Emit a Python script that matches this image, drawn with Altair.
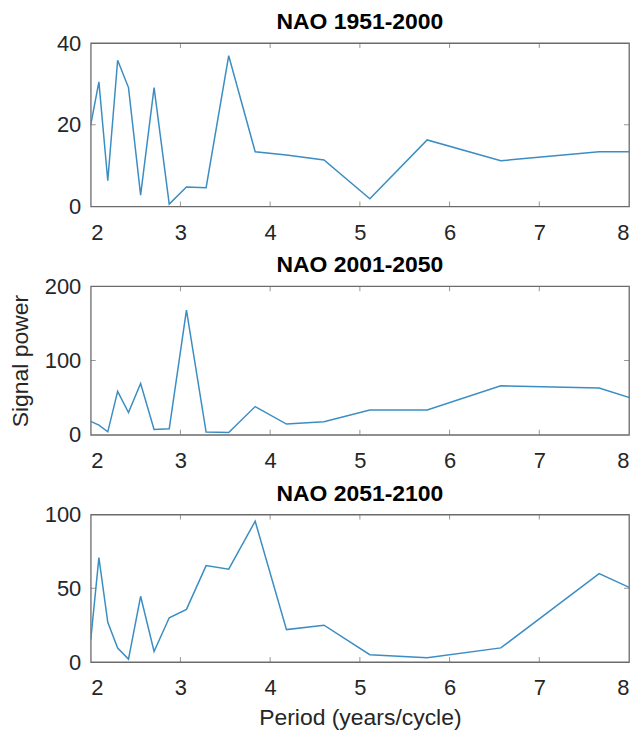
import altair as alt
import pandas as pd

# Period axis (years/cycle) of the spectral estimates
periods = [2.0, 2.091, 2.19, 2.3, 2.421, 2.556, 2.706, 2.875, 3.067, 3.286,
           3.538, 3.833, 4.182, 4.6, 5.111, 5.75, 6.571, 7.667, 9.2]

power_1951_2000 = [20.0, 30.5, 6.3, 35.8, 29.1, 2.8, 29.1, 0.6, 4.8, 4.6,
                   36.9, 13.4, 12.6, 11.4, 1.9, 16.3, 11.2, 13.4, 13.4]
power_2001_2050 = [18.0, 13.0, 4.0, 58.5, 30.0, 69.0, 7.2, 8.0, 168.0, 3.6,
                   3.0, 38.0, 14.5, 17.5, 33.5, 33.5, 66.0, 63.0, 5.0]
power_2051_2100 = [15.0, 70.8, 27.0, 9.5, 2.0, 44.6, 7.2, 30.0, 35.7, 65.4,
                   63.0, 95.5, 22.0, 25.0, 5.0, 3.0, 9.6, 60.0, 17.0]

titles = ["NAO 1951-2000", "NAO 2001-2050", "NAO 2051-2100"]
y_domains = [[0, 40], [0, 200], [0, 100]]
y_tick_values = [[0, 20, 40], [0, 100, 200], [0, 50, 100]]
y_inner_ticks = [[20], [100], [50]]
x_tick_values = [2, 3, 4, 5, 6, 7, 8]
x_inner_ticks = [3, 4, 5, 6, 7]

W = 540
heights = [164, 149, 148]
LINE = "#3b8ec3"
FRAME = "#6b6b6b"
FONT = "Liberation Sans"


def panel(i, values):
    h = heights[i]
    df = pd.DataFrame({"period": periods, "power": values})
    xscale = alt.Scale(domain=[2, 8], nice=False, zero=False)
    yscale = alt.Scale(domain=y_domains[i], nice=False)
    x_title = "Period (years/cycle)" if i == 2 else None
    y_title = "Signal power" if i == 1 else None
    xaxis = alt.Axis(values=x_tick_values, title=x_title, format="d")
    yaxis = alt.Axis(values=y_tick_values[i], title=y_title, format="d")

    line = alt.Chart(df).mark_line(color=LINE, strokeWidth=1.5, clip=True).encode(
        x=alt.X("period:Q", scale=xscale, axis=xaxis),
        y=alt.Y("power:Q", scale=yscale, axis=yaxis),
    )

    xt = pd.DataFrame({"period": x_inner_ticks})
    yt = pd.DataFrame({"power": y_inner_ticks[i]})
    tick_x_bottom = alt.Chart(xt).mark_tick(orient="vertical", color=FRAME, size=10,
                                            thickness=1, clip=True).encode(
        x=alt.X("period:Q", scale=xscale, axis=xaxis), y=alt.value(h))
    tick_x_top = alt.Chart(xt).mark_tick(orient="vertical", color=FRAME, size=10,
                                         thickness=1, clip=True).encode(
        x=alt.X("period:Q", scale=xscale, axis=xaxis), y=alt.value(0))
    tick_y_left = alt.Chart(yt).mark_tick(orient="horizontal", color=FRAME, size=10,
                                          thickness=1, clip=True).encode(
        y=alt.Y("power:Q", scale=yscale, axis=yaxis), x=alt.value(0))
    tick_y_right = alt.Chart(yt).mark_tick(orient="horizontal", color=FRAME, size=10,
                                           thickness=1, clip=True).encode(
        y=alt.Y("power:Q", scale=yscale, axis=yaxis), x=alt.value(W))

    return alt.layer(line, tick_x_bottom, tick_x_top, tick_y_left, tick_y_right).properties(
        width=W, height=h,
        title=alt.TitleParams(titles[i], fontSize=23, fontWeight="bold", font=FONT,
                              color="black", anchor="middle", offset=-2),
    )


chart = alt.vconcat(
    panel(0, power_1951_2000),
    panel(1, power_2001_2050),
    panel(2, power_2051_2100),
    spacing=80,
    bounds="flush",
).properties(
    padding={"left": 0, "top": 1, "right": 2, "bottom": 2},
    background="white",
).configure_view(
    stroke=FRAME, strokeWidth=1.3
).configure_axis(
    grid=False, domain=False, ticks=False,
    labelFont=FONT, labelFontSize=22, labelColor="#262626", labelPadding=10,
    titleFont=FONT, titleFontSize=23, titleFontWeight="normal", titleColor="#262626",
).configure_axisX(
    labelPadding=16, titlePadding=8
).configure_axisY(
    titlePadding=12
)

chart.save("out.html", embed_options={"renderer": "svg", "actions": False})
